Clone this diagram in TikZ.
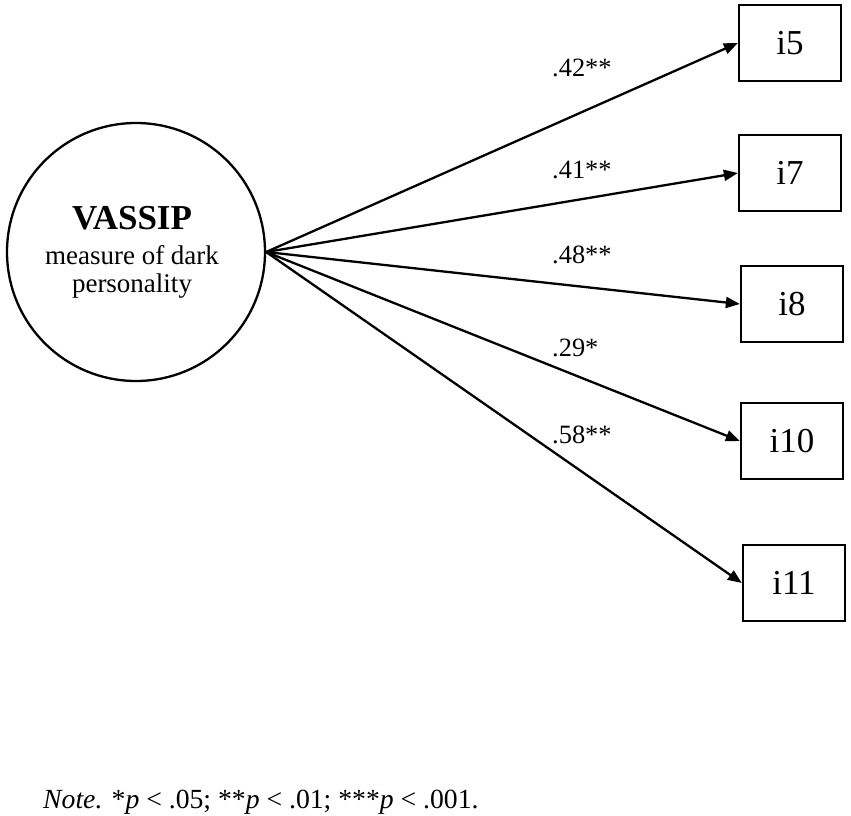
\documentclass[tikz,border=0pt]{standalone}
\usepackage{fontspec}
\setmainfont{Liberation Serif}
\usetikzlibrary{arrows.meta}
\begin{document}
\begin{tikzpicture}[x=1pt,y=-1pt,
  obs/.style={draw, line width=2.3pt, minimum width=102pt, minimum height=76pt, inner sep=0pt, font=\fontsize{35}{38}\selectfont},
  lat/.style={draw, circle, line width=2.3pt, minimum size=258pt, inner sep=0pt},
  pathline/.style={line width=2.3pt, -{Triangle[length=14pt,width=11pt]}},
  coef/.style={anchor=west, font=\fontsize{26.4}{28}\selectfont, inner sep=0pt},
  txt/.style={anchor=base, inner sep=0pt}]
\useasboundingbox (0,0) rectangle (851,816);
\node[lat] (F) at (136,252) {};
\node[txt, font=\fontsize{35}{38}\selectfont\bfseries] (t1) at (132,229) {VASSIP};
\node[txt, font=\fontsize{27}{29}\selectfont] (t2) at (132,264) {measure of dark};
\node[txt, font=\fontsize{27}{29}\selectfont] (t3) at (132,292) {personality};

\node[obs] (i5) at (790,43) {i5};
\node[obs] (i7) at (790,173) {i7};
\node[obs] (i8) at (792,304) {i8};
\node[obs] (i10) at (792,441) {i10};
\node[obs] (i11) at (794,583) {i11};

\draw[pathline] (F.east) -- (i5.west);
\draw[pathline] (F.east) -- (i7.west);
\draw[pathline] (F.east) -- (i8.west);
\draw[pathline] (F.east) -- (i10.west);
\draw[pathline] (F.east) -- (i11.west);

\node[coef] (c5) at (552,68) {.42**};
\node[coef] (c7) at (552,170) {.41**};
\node[coef] (c8) at (552,255) {.48**};
\node[coef] (c10) at (552,348) {.29*};
\node[coef] (c11) at (552,435) {.58**};

\node[anchor=base west, inner sep=0pt, font=\fontsize{27.7}{30}\selectfont] (note) at (43,808) {\textit{Note.} *\textit{p} < .05; **\textit{p} < .01; ***\textit{p} < .001.};
\end{tikzpicture}
\end{document}
